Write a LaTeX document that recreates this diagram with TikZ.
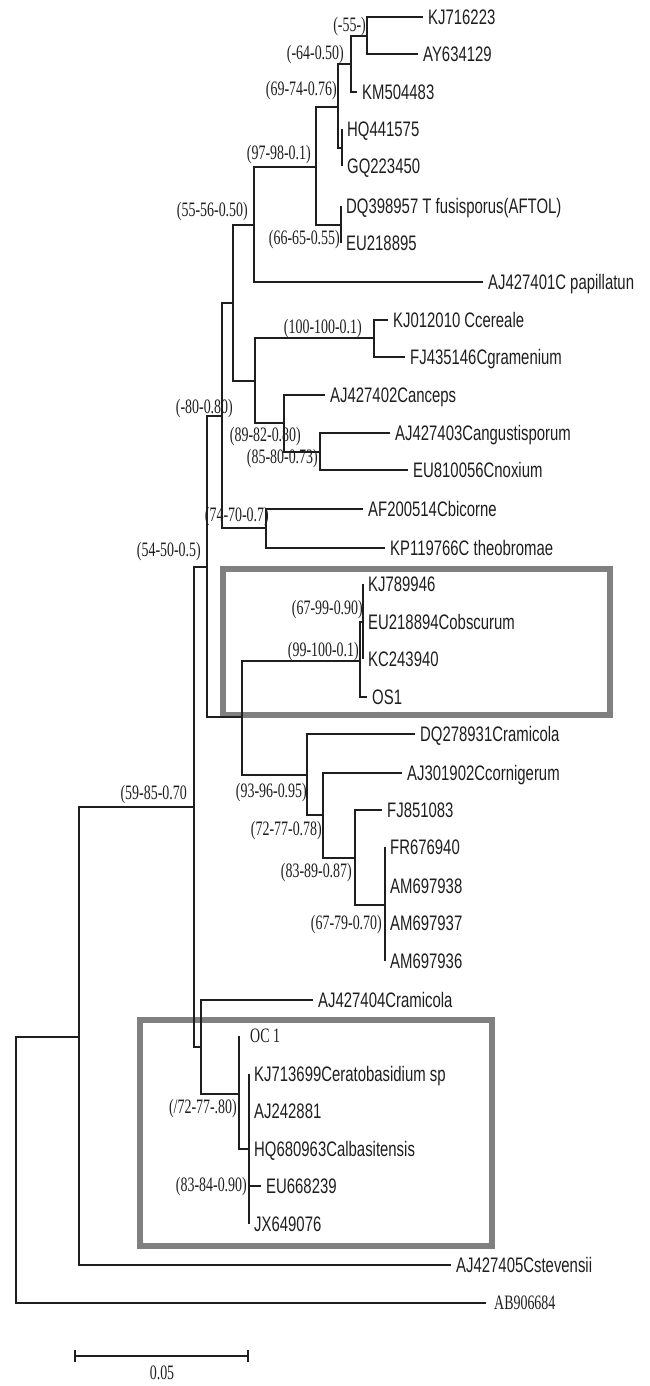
\documentclass[tikz,border=0pt]{standalone}
\usepackage{fontspec}
\newfontfamily\tipfont[FakeStretch=0.71]{Liberation Sans}
\newfontfamily\supfont[FakeStretch=0.68]{Liberation Serif}
\definecolor{boxgray}{HTML}{808080}
\definecolor{ink}{HTML}{1E1E1E}
\tikzset{
  branch/.style={draw=ink, line width=1.4pt},
  tip/.style={anchor=west, inner xsep=5pt, inner ysep=0pt, text=ink,
    text height=15pt, text depth=0pt, font=\tipfont\fontsize{21}{25}\selectfont},
  tipserif/.style={tip, text height=13.9pt, font=\supfont\fontsize{20.5}{24}\selectfont},
  support/.style={anchor=east, inner sep=0pt, text=ink, text height=13.9pt, text depth=0pt,
    font=\supfont\fontsize{20.5}{24}\selectfont},
  cladebox/.style={draw=boxgray, line width=6.5pt},
}
\begin{document}
\begin{tikzpicture}[x=1pt,y=-1pt]
\useasboundingbox (0,0) rectangle (649,1386);
% clade boxes
\draw[cladebox] (223,569) rectangle (610,715);
\draw[cladebox] (140,1020) rectangle (492,1246);
% tips
\node[tip] (kj716223) at (423,17) {KJ716223};
\node[tip] (ay634129) at (418,54) {AY634129};
\node[tip] (km504483) at (357,92) {KM504483};
\node[tip] (hq441575) at (342,129) {HQ441575};
\node[tip] (gq223450) at (342,166) {GQ223450};
\node[tip] (dq398957) at (341,206) {DQ398957 T fusisporus(AFTOL)};
\node[tip] (eu218895) at (341,243) {EU218895};
\node[tip] (aj427401) at (483,282) {AJ427401C papillatun};
\node[tip] (kj012010) at (388,320) {KJ012010 Ccereale};
\node[tip] (fj435146) at (405,357) {FJ435146Cgramenium};
\node[tip] (aj427402) at (325,395) {AJ427402Canceps};
\node[tip] (aj427403) at (390,433) {AJ427403Cangustisporum};
\node[tip] (eu810056) at (408,470) {EU810056Cnoxium};
\node[tip] (af200514) at (363,509) {AF200514Cbicorne};
\node[tip] (kp119766) at (385,548) {KP119766C theobromae};
\node[tip] (kj789946) at (363,584) {KJ789946};
\node[tip] (eu218894) at (363,622) {EU218894Cobscurum};
\node[tip] (kc243940) at (363,659) {KC243940};
\node[tip] (os1) at (367,697) {OS1};
\node[tip] (dq278931) at (415,734) {DQ278931Cramicola};
\node[tip] (aj301902) at (402,773) {AJ301902Ccornigerum};
\node[tip] (fj851083) at (382,810) {FJ851083};
\node[tip] (fr676940) at (385,847) {FR676940};
\node[tip] (am697938) at (385,886) {AM697938};
\node[tip] (am697937) at (385,923) {AM697937};
\node[tip] (am697936) at (385,961) {AM697936};
\node[tip] (aj427404) at (313,1000) {AJ427404Cramicola};
\node[tipserif, inner xsep=11pt] (oc1) at (239,1036) {OC 1};
\node[tip] (kj713699) at (249,1074) {KJ713699Ceratobasidium sp};
\node[tip] (aj242881) at (249,1111) {AJ242881};
\node[tip] (hq680963) at (249,1149) {HQ680963Calbasitensis};
\node[tip] (eu668239) at (261,1186) {EU668239};
\node[tip] (jx649076) at (249,1224) {JX649076};
\node[tip] (aj427405) at (451,1265) {AJ427405Cstevensii};
\node[tipserif, inner xsep=8pt] (ab906684) at (486,1303) {AB906684};
% internal nodes
\coordinate (nA) at (367,36);
\coordinate (nB) at (351,64);
\coordinate (nHG) at (342,148);
\coordinate (nC) at (338,107);
\coordinate (nE) at (341,225);
\coordinate (nD) at (316,167);
\coordinate (nF) at (254,225);
\coordinate (nI) at (374,338);
\coordinate (nK) at (320,452);
\coordinate (nJ) at (284,423);
\coordinate (nH) at (255,381);
\coordinate (nG) at (233,303);
\coordinate (nM) at (266,528);
\coordinate (nL) at (222,416);
\coordinate (nQ) at (363,622);
\coordinate (nP) at (360,661);
\coordinate (nU) at (385,905);
\coordinate (nT) at (355,858);
\coordinate (nS) at (323,815);
\coordinate (nR) at (307,775);
\coordinate (nO) at (242,717);
\coordinate (nN) at (207,567);
\coordinate (nY) at (249,1149);
\coordinate (nX) at (239,1094);
\coordinate (nW) at (201,1047);
\coordinate (nV) at (194,807);
\coordinate (nZ) at (79,1037);
\coordinate (root) at (16,1170);
% branches
\draw[branch] (nA) |- (kj716223.west);
\draw[branch] (nA) |- (ay634129.west);
\draw[branch] (nB) |- (nA);
\draw[branch] (nB) |- (km504483.west);
\draw[branch] (nHG) |- (hq441575.west);
\draw[branch] (nHG) |- (gq223450.west);
\draw[branch] (nC) |- (nB);
\draw[branch] (nC) |- (nHG);
\draw[branch] (nE) |- (dq398957.west);
\draw[branch] (nE) |- (eu218895.west);
\draw[branch] (nD) |- (nC);
\draw[branch] (nD) |- (nE);
\draw[branch] (nF) |- (nD);
\draw[branch] (nF) |- (aj427401.west);
\draw[branch] (nI) |- (kj012010.west);
\draw[branch] (nI) |- (fj435146.west);
\draw[branch] (nK) |- (aj427403.west);
\draw[branch] (nK) |- (eu810056.west);
\draw[branch] (nJ) |- (aj427402.west);
\draw[branch] (nJ) |- (nK);
\draw[branch] (nH) |- (nI);
\draw[branch] (nH) |- (nJ);
\draw[branch] (nG) |- (nF);
\draw[branch] (nG) |- (nH);
\draw[branch] (nM) |- (af200514.west);
\draw[branch] (nM) |- (kp119766.west);
\draw[branch] (nL) |- (nG);
\draw[branch] (nL) |- (nM);
\draw[branch] (nQ) |- (kj789946.west);
\draw[branch] (nQ) |- (eu218894.west);
\draw[branch] (nQ) |- (kc243940.west);
\draw[branch] (nP) |- (nQ);
\draw[branch] (nP) |- (os1.west);
\draw[branch] (nU) |- (fr676940.west);
\draw[branch] (nU) |- (am697938.west);
\draw[branch] (nU) |- (am697937.west);
\draw[branch] (nU) |- (am697936.west);
\draw[branch] (nT) |- (fj851083.west);
\draw[branch] (nT) |- (nU);
\draw[branch] (nS) |- (aj301902.west);
\draw[branch] (nS) |- (nT);
\draw[branch] (nR) |- (dq278931.west);
\draw[branch] (nR) |- (nS);
\draw[branch] (nO) |- (nP);
\draw[branch] (nO) |- (nR);
\draw[branch] (nN) |- (nL);
\draw[branch] (nN) |- (nO);
\draw[branch] (nY) |- (kj713699.west);
\draw[branch] (nY) |- (aj242881.west);
\draw[branch] (nY) |- (hq680963.west);
\draw[branch] (nY) |- (eu668239.west);
\draw[branch] (nY) |- (jx649076.west);
\draw[branch] (nX) |- (oc1.west);
\draw[branch] (nX) |- (nY);
\draw[branch] (nW) |- (aj427404.west);
\draw[branch] (nW) |- (nX);
\draw[branch] (nV) |- (nN);
\draw[branch] (nV) |- (nW);
\draw[branch] (nZ) |- (nV);
\draw[branch] (nZ) |- (aj427405.west);
\draw[branch] (root) |- (nZ);
\draw[branch] (root) |- (ab906684.west);
% support values
\node[support] (s1) at (366,25) {(-55-)};
\node[support] (s2) at (344,53) {(-64-0.50)};
\node[support] (s3) at (337,89) {(69-74-0.76)};
\node[support] (s4) at (311,153) {(97-98-0.1)};
\node[support] (s5) at (340,238) {(66-65-0.55)};
\node[support] (s6) at (248,210) {(55-56-0.50)};
\node[support] (s7) at (362,327) {(100-100-0.1)};
\node[support] (s8) at (301,435) {(89-82-0.80)};
\node[support] (s9) at (318,457) {(85-80-0.73)};
\node[support] (s10) at (233,407) {(-80-0.80)};
\node[support] (s11) at (269,515) {(74-70-0.7)};
\node[support] (s12) at (201,550) {(54-50-0.5)};
\node[support] (s13) at (363,608) {(67-99-0.90)};
\node[support] (s14) at (359,650) {(99-100-0.1)};
\node[support] (s15) at (307,791) {(93-96-0.95)};
\node[support] (s16) at (322,829) {(72-77-0.78)};
\node[support] (s17) at (352,871) {(83-89-0.87)};
\node[support] (s18) at (382,923) {(67-79-0.70)};
\node[support] (s19) at (187,793) {(59-85-0.70};
\node[support] (s20) at (237,1107) {(/72-77-.80)};
\node[support] (s21) at (247,1185) {(83-84-0.90)};
% scale bar
\coordinate (sbl) at (75,1356);
\coordinate (sbr) at (248,1356);
\draw[branch] (sbl) -- (sbr);
\draw[branch] ([yshift=-6pt]sbl) -- ([yshift=6pt]sbl);
\draw[branch] ([yshift=-6pt]sbr) -- ([yshift=6pt]sbr);
\node[support, anchor=center] (sblab) at (162,1373) {0.05};
\end{tikzpicture}
\end{document}
